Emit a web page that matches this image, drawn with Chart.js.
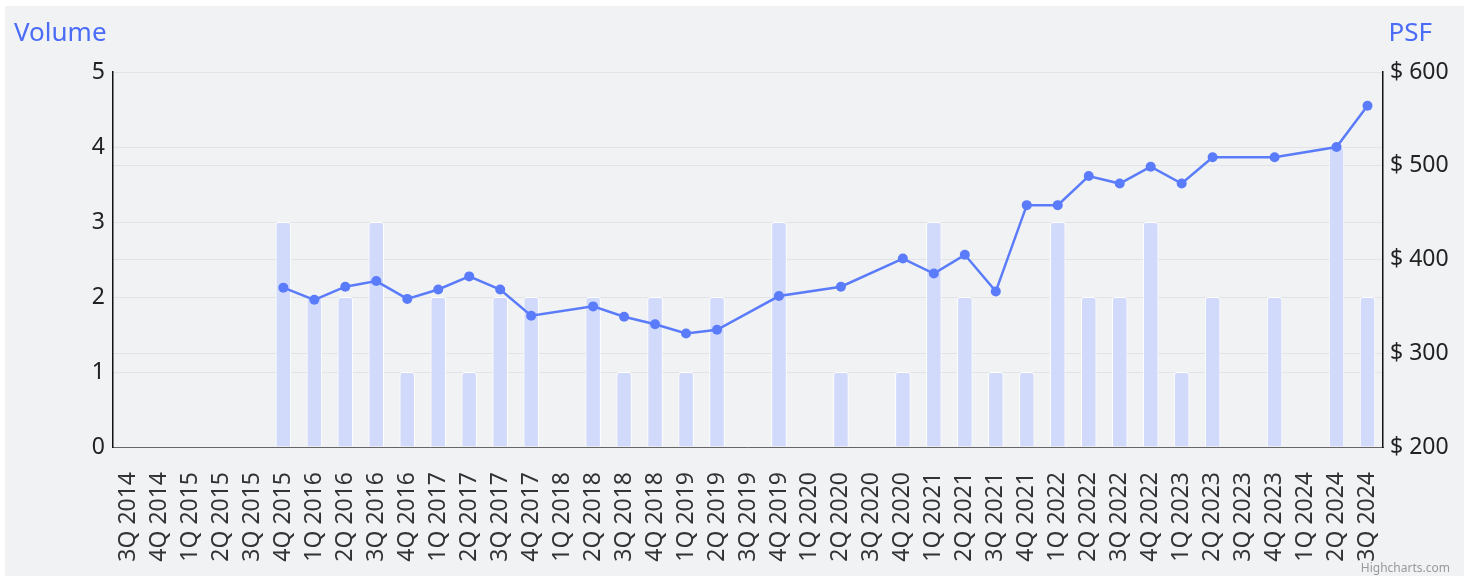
<!DOCTYPE html>
<html>
<head>
<meta charset="utf-8">
<script src="https://cdn.jsdelivr.net/npm/chart.js@4"></script>
<style>
  html, body { margin: 0; padding: 0; background: #ffffff; }
  #wrap {
    position: absolute; left: 5px; top: 6px; width: 1459px; height: 570px;
    background: #f1f2f4; font-family: "Noto Sans", sans-serif;
  }
  #wrap canvas { position: absolute; left: 0; top: 0; }
  .ttl { position: absolute; top: 8px; font-size: 26px; color: #4a6cf7; line-height: 34px; }
  #credit { position: absolute; right: 14px; bottom: 0px; font-size: 12px; color: #999999; }
</style>
</head>
<body>
<div id="wrap">
  <canvas id="chart" width="1459" height="570"></canvas>
  <div class="ttl" style="left: 9px;">Volume</div>
  <div class="ttl" style="right: 32px;">PSF</div>
  <div id="credit">Highcharts.com</div>
</div>
<script>
const quarters = [
  '3Q 2014', '4Q 2014',
  '1Q 2015', '2Q 2015', '3Q 2015', '4Q 2015',
  '1Q 2016', '2Q 2016', '3Q 2016', '4Q 2016',
  '1Q 2017', '2Q 2017', '3Q 2017', '4Q 2017',
  '1Q 2018', '2Q 2018', '3Q 2018', '4Q 2018',
  '1Q 2019', '2Q 2019', '3Q 2019', '4Q 2019',
  '1Q 2020', '2Q 2020', '3Q 2020', '4Q 2020',
  '1Q 2021', '2Q 2021', '3Q 2021', '4Q 2021',
  '1Q 2022', '2Q 2022', '3Q 2022', '4Q 2022',
  '1Q 2023', '2Q 2023', '3Q 2023', '4Q 2023',
  '1Q 2024', '2Q 2024', '3Q 2024'
];

// number of transactions per quarter
const volume = [
  null, null, null, null, null, 3,
  2, 2, 3, 1,
  2, 1, 2, 2,
  null, 2, 1, 2,
  1, 2, null, 3,
  null, 1, null, 1,
  3, 2, 1, 1,
  3, 2, 2, 3,
  1, 2, null, 2,
  null, 4, 2
];

// average price per square foot
const psf = [
  null, null, null, null, null, 370,
  357, 371, 377, 358,
  368, 382, 368, 340,
  null, 350, 339, 331,
  321, 325, null, 361,
  null, 371, null, 401,
  385, 405, 366, 458,
  458, 489, 481, 499,
  481, 509, null, 509,
  null, 520, 564
];

const volumeTicks = [0, 1, 2, 3, 4, 5];
const psfTicks = [200, 300, 400, 500, 600];

const lineColor = '#5b7cfa';
const barColor = '#d2dafc';
const gridColor = '#e2e3e6';
const yTickFont = { family: 'Noto Sans', size: 23 };
const xTickFont = { family: 'Noto Sans', size: 23 };

const ctx = document.getElementById('chart').getContext('2d');

window.myChart = new Chart(ctx, {
    type: 'bar',
    data: {
        labels: quarters,
        datasets: [
            {
                type: 'line',
                label: 'PSF',
                data: psf,
                yAxisID: 'yPsf',
                borderColor: lineColor,
                backgroundColor: lineColor,
                borderWidth: 2.5,
                pointRadius: 5,
                pointBorderWidth: 0,
                spanGaps: true,
                tension: 0,
                order: 0
            },
            {
                type: 'bar',
                label: 'Volume',
                data: volume,
                yAxisID: 'yVol',
                backgroundColor: barColor,
                borderColor: '#ffffff',
                borderWidth: 1,
                borderRadius: { topLeft: 3, topRight: 3 },
                borderSkipped: 'bottom',
                categoryPercentage: 1,
                barPercentage: 0.5,
                order: 1
            }
        ]
    },
    options: {
        responsive: false,
        animation: false,
        layout: { padding: { top: 66, left: 0, right: 0, bottom: 0 } },
        plugins: {
            legend: { display: false },
            tooltip: { enabled: false }
        },
        scales: {
            x: {
                grid: { display: false, drawTicks: false },
                border: { color: '#666666', width: 1 },
                ticks: {
                    color: '#333333',
                    font: xTickFont,
                    minRotation: 90,
                    maxRotation: 90,
                    autoSkip: false,
                    padding: 25
                },
                afterFit: function(scale) { scale.height = 129; }
            },
            yVol: {
                position: 'left',
                min: 0,
                max: 5,
                afterBuildTicks: function(scale) {
                    scale.ticks = volumeTicks.map(v => ({ value: v }));
                },
                grid: { color: gridColor, drawTicks: false },
                border: { color: '#111111', width: 1.5 },
                ticks: { color: '#222222', font: yTickFont, padding: 8 },
                afterFit: function(scale) { scale.width = 108; }
            },
            yPsf: {
                position: 'right',
                min: 200,
                max: 600,
                afterBuildTicks: function(scale) {
                    scale.ticks = psfTicks.map(v => ({ value: v }));
                },
                grid: { color: gridColor, drawTicks: false },
                border: { color: '#111111', width: 1.5 },
                ticks: {
                    color: '#222222',
                    font: yTickFont,
                    padding: 7,
                    callback: function(value) { return '$ ' + value; }
                },
                afterFit: function(scale) { scale.width = 81; }
            }
        }
    }
});
</script>
</body>
</html>
